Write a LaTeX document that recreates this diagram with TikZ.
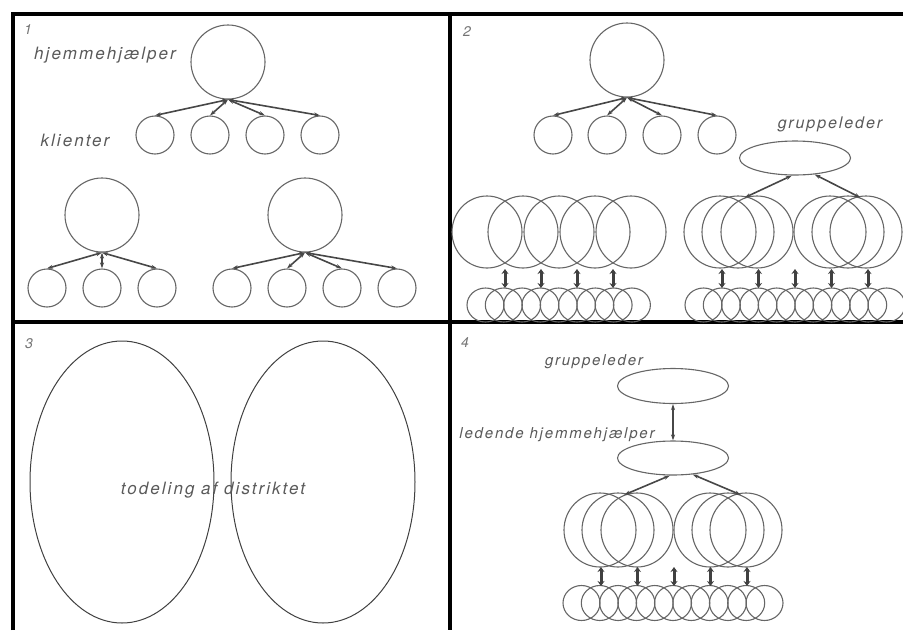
\documentclass[tikz,border=0pt]{standalone}
\usepackage{fontspec}
\newfontfamily\lbfont[LetterSpace=12]{TeX Gyre Heros}
\usetikzlibrary{positioning,arrows.meta,shapes.geometric}

\begin{document}
\begin{tikzpicture}[x=1pt, y=-1pt,
  >={Stealth[length=6pt,width=4pt]},
  big/.style={draw=black!60, line width=1.1pt, circle, inner sep=0pt, minimum size=74pt},
  kid/.style={draw=black!60, line width=1.1pt, circle, inner sep=0pt, minimum size=38pt},
  ring/.style={draw=black!60, line width=1.1pt, ellipse, inner sep=0pt, minimum width=72pt, minimum height=72pt},
  bead/.style={draw=black!60, line width=1.1pt, ellipse, inner sep=0pt, minimum width=37pt, minimum height=34pt},
  lead/.style={draw=black!60, line width=1.1pt, ellipse, inner sep=0pt, minimum width=111pt, minimum height=34pt},
  half/.style={draw=black!75, line width=1pt, ellipse, inner sep=0pt, minimum width=184pt, minimum height=282pt},
  con/.style={<->, draw=black!72, line width=1.6pt},
  tie/.style={<->, draw=black!75, line width=3pt, >={Stealth[length=5pt,width=7pt]}},
  lb/.style={font=\lbfont\itshape\fontsize{#1}{#1}\selectfont, text=black!65, inner sep=0pt},
  lb/.default=17,
  num/.style={font=\lbfont\itshape\fontsize{14}{14}\selectfont, text=black!55, inner sep=0pt},
  frame/.style={line width=4pt, black}]

  \useasboundingbox (0,0) rectangle (903,630);

  % frames
  \draw[frame] (13,630) -- (13,14) -- (903,14);
  \draw[frame] (450,14) -- (450,630);
  \draw[frame] (13,322) -- (903,322);

  \node[num] (n1) at (28,30) {1};
  \node[num] (n2) at (467,32) {2};
  \node[num] (n3) at (29,344) {3};
  \node[num] (n4) at (465,343) {4};

  % 1: one helper per client group
  \node[lb] (hlab) at (105,55) {hjemmehjælper};
  \node[lb] (klab) at (75,140) {klienter};

  \node[big] (ha) at (228,62) {};
  \foreach \x [count=\i] in {155,210,265,320} {
    \node[kid] (ka\i) at (\x,135) {};
    \draw[con] (ha.south) -- (ka\i.north);
  }

  \node[big] (hb) at (102,215) {};
  \foreach \x [count=\i] in {47,102,157} {
    \node[kid] (kb\i) at (\x,288) {};
    \draw[con] (hb.south) -- (kb\i.north);
  }

  \node[big] (hc) at (305,215) {};
  \foreach \x [count=\i] in {232,287,342,397} {
    \node[kid] (kc\i) at (\x,288) {};
    \draw[con] (hc.south) -- (kc\i.north);
  }

  % 2: single helper, plain rows, and rows under a group leader
  \node[big] (hd) at (627,60) {};
  \foreach \x [count=\i] in {553,607,662,717} {
    \node[kid] (kd\i) at (\x,135) {};
    \draw[con] (hd.south) -- (kd\i.north);
  }

  \foreach \i in {0,...,4}
    \node[ring, minimum width=70pt] (pa\i) at (487+36*\i,232) {};
  \foreach \i in {0,...,8}
    \node[bead] (ba\i) at (485.5+18.3*\i,305) {};
  \foreach \i in {0,...,3} {
    \coordinate (ua\i) at (505+36*\i,269);
    \coordinate (da\i) at (505+36*\i,288);
    \draw[tie] (ua\i) -- (da\i);
  }

  \node[lb=16] (glab) at (830,124) {gruppeleder};
  \node[lead] (gb) at (795,158) {};
  \foreach \x [count=\i] in {720,738,757,830,848,866}
    \node[ring] (pb\i) at (\x,232) {};
  \foreach \i in {0,...,10}
    \node[bead] (bb\i) at (703.5+18.3*\i,305) {};
  \foreach \i in {0,...,4} {
    \coordinate (ub\i) at (722+36.5*\i,269);
    \coordinate (db\i) at (722+36.5*\i,288);
    \draw[tie] (ub\i) -- (db\i);
  }
  \draw[con] (gb.-100) -- (pb3.110);
  \draw[con] (gb.-40) -- (pb5.70);

  % 3: district split in two
  \node[half] (dl) at (122,482) {};
  \node[half] (dr) at (323,482) {};
  \node[lb] (dlab) at (213,490) {todeling af distriktet};

  % 4: group leader over a leading helper
  \node[lb=15] (glab4) at (594,362) {gruppeleder};
  \node[lead, minimum height=35pt] (gc) at (673,386) {};
  \node[lb=15] (llab) at (557,435) {ledende hjemmehjælper};
  \node[lead] (lc) at (673,458) {};
  \draw[con] (gc.south) -- (lc.north);

  \foreach \x [count=\i] in {600,618,637,710,728,746}
    \node[ring, minimum height=74pt] (pc\i) at (\x,530) {};
  \foreach \i in {0,...,10}
    \node[bead, minimum height=35pt] (bc\i) at (581.5+18.3*\i,603) {};
  \foreach \i in {0,...,4} {
    \coordinate (uc\i) at (601+36.5*\i,567);
    \coordinate (dc\i) at (601+36.5*\i,586);
    \draw[tie] (uc\i) -- (dc\i);
  }
  \draw[con] (lc.-100) -- (pc3.110);
  \draw[con] (lc.-40) -- (pc5.70);
\end{tikzpicture}
\end{document}
